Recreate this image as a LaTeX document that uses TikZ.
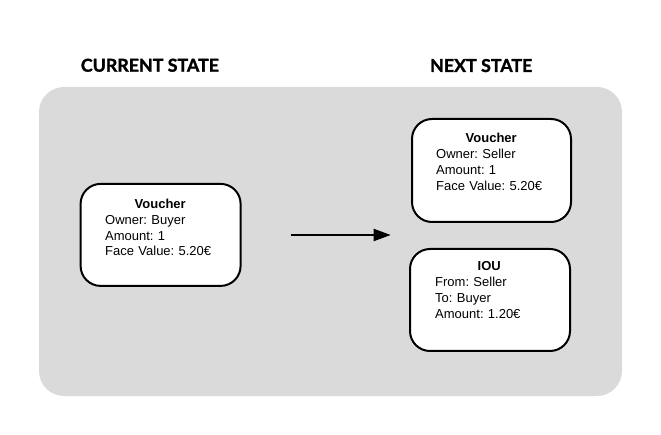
\documentclass[tikz,border=0pt]{standalone}
\usepackage{fontspec}
\setmainfont{Liberation Sans}
\newfontfamily\headfont{Lato}[BoldFeatures={FakeBold=1.5}]
\usetikzlibrary{arrows.meta}
\definecolor{panelgray}{RGB}{218,218,218}
\frenchspacing
\tikzset{
  panel/.style={fill=panelgray, draw=none, rounded corners=25pt},
  statebox/.style={draw=black, line width=2pt, fill=white, rounded corners=20pt, inner sep=0pt},
  content/.style={anchor=north west, inner sep=0pt, text width=110pt, align=left,
    font=\frenchspacing\fontsize{13pt}{15.8pt}\selectfont},
  heading/.style={anchor=base west, inner sep=0pt, font=\headfont\bfseries\fontsize{17.8pt}{21pt}\selectfont},
  flow/.style={line width=2pt, -{Triangle[length=17pt,width=12pt]}}
}
\begin{document}
\begin{tikzpicture}[x=1pt,y=-1pt]
\useasboundingbox (0,0) rectangle (661,435);
\fill[panel] (39,87) rectangle (622,396);
\node[heading] (hcur) at (80.7,71.7) {CURRENT STATE};
\node[heading] (hnext) at (430,72) {NEXT STATE};
% boxes
\node[statebox, minimum width=160pt, minimum height=102pt] (vcur) at (160.6,234.9) {};
\node[statebox, minimum width=159pt, minimum height=103pt] (vnext) at (491.5,170.5) {};
\node[statebox, minimum width=160pt, minimum height=102pt] (iou) at (490,300) {};
% texts
\node[content] (tcur) at (105,198.8) {\makebox[110pt]{\bfseries Voucher}\\Owner: Buyer\\Amount: 1\\Face Value: 5.20€};
\node[content] (tnext) at (436,133) {\makebox[110pt]{\bfseries Voucher}\\Owner: Seller\\Amount: 1\\Face Value: 5.20€};
\node[content] (tiou) at (435,261.4) {\makebox[108pt]{\bfseries IOU}\\From: Seller\\To: Buyer\\Amount: 1.20€};
% arrow
\coordinate (as) at (290.7,235);
\coordinate (ae) at (390.7,235);
\draw[flow] (as) -- (ae);
\end{tikzpicture}
\end{document}
